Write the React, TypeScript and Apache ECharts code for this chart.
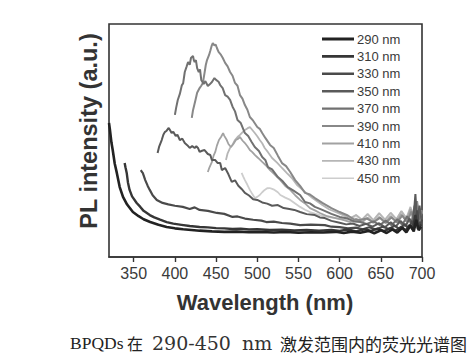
import React, { useEffect, useRef } from "react";
import * as echarts from "echarts";

const names = ["290 nm", "310 nm", "330 nm", "350 nm", "370 nm", "390 nm", "410 nm", "430 nm", "450 nm"];
const colors = ["#222222", "#363636", "#4a4a4a", "#5a5a5a", "#717171", "#888888", "#a2a2a2", "#b6b6b6", "#cdcdcd"];
const widths = [2.6, 2.4, 2.2, 2, 2, 2, 1.8, 1.8, 1.8];
const legendWidths = [3, 2.8, 2.6, 2.4, 2.2, 2, 2, 1.8, 1.6];
const xTicks = [350, 400, 450, 500, 550, 600, 650, 700];

const s290: number[][] = [[320,57.5],[321,55],[323,49],[324.5,45.9],[327,40],[329.5,36.1],[333,30],[337,25.8],[342,22.5],[349,19.3],[356,17.5],[362,16.2],[370,15.0],[380,13.8],[390,12.9],[400,12.3],[410,11.9],[420,11.6],[430,11.3],[445,11.0],[460,10.8],[475,10.9],[490,10.6],[505,10.7],[520,10.5],[535,10.7],[550,10.4],[565,10.6],[580,10.5],[595,10.8],[605,10.3],[615,10.9],[625,10.4],[635,11.2],[642,10.2],[650,11.5],[657,10.3],[664,11.8],[670,10.5],[676,12.5],[681,10.6],[686,13.5],[690,11.0],[693,16],[696,11.5],[699,13]];
const s310: number[][] = [[339,40.3],[340,38.5],[341.5,36.1],[343,32],[345,28.8],[348,26],[353.6,23.2],[358,21.5],[362,19.8],[369.5,18.0],[375,17.0],[382,16.0],[390,15],[398,14.3],[408,13.8],[418,13.3],[430,12.9],[440,12.7],[450,12.4],[460,12.3],[470,12.0],[480,12.1],[490,11.8],[500,11.9],[515,11.6],[530,11.7],[545,11.4],[560,11.6],[575,11.3],[590,11.6],[600,11.2],[610,11.8],[620,11.0],[630,11.9],[638,11.2],[646,12.2],[654,11.1],[662,12.4],[668,11.3],[675,13],[680,11.4],[685,13.8],[689,11.8],[692,18],[695,12],[699,14]];
const s330: number[][] = [[358.6,37.3],[360,36.5],[361,36.1],[364,33],[367,30.5],[369.5,28.8],[373,26.5],[378,24.5],[385,23.2],[392,22.6],[400,22.0],[409.6,21.5],[418,20.6],[424,21.3],[430,20.2],[440,19.8],[451,18.9],[460,18.5],[470,17.2],[476,17.4],[485,16.5],[495,16.0],[505,15.6],[511,15.0],[520,15.2],[530,14.6],[540,14.3],[552,13.7],[565,13.9],[582,13.7],[590,13.0],[600,12.8],[610,12.3],[620,12.6],[628,11.9],[636,12.8],[644,11.8],[652,13.0],[660,12.0],[667,13.5],[673,11.9],[679,14.2],[684,12.2],[688,15.5],[691,12.5],[694,20],[697,13],[700,16]];
const s350: number[][] = [[379,44.6],[381,47.5],[384,50.2],[386,52.5],[387.7,53.6],[390,54.2],[392.5,55.4],[394,54.5],[396,53.2],[398,53.8],[401,51.9],[403,52.5],[406,50.2],[409,50.8],[412,48.9],[415,48.0],[418,46.8],[421,47.6],[424,46.8],[426,47.5],[428,46.8],[430,45.1],[433,45.6],[436,45.9],[440,44.2],[443,43.8],[445,41.6],[449,41.6],[452,40.3],[455,40.3],[457,37.3],[461,38.2],[465,35.5],[469,32.2],[473,32.9],[477,30.6],[481,29.2],[485,27.5],[490,26.4],[495,24.8],[500,24.5],[506,23.4],[512,22.9],[518,22.0],[525,22.3],[532,21.0],[539,20.6],[545,20.2],[552,19.3],[560,18.4],[570,18.0],[576,17.0],[582,16.7],[590,15.5],[600,14.7],[608,14.0],[616,14.4],[624,13.3],[632,14.2],[640,13.0],[648,14.5],[655,12.8],[662,14.9],[668,13.0],[674,15.5],[680,13.2],[685,16.5],[689,13.5],[692,27],[694,15],[697,22],[700,14]];
const s370: number[][] = [[400,61],[401.5,64],[403.5,67.4],[406,70],[408.5,73.8],[410,74.5],[412,79.4],[414,81.5],[416,83.7],[418,82.5],[419.5,85.4],[422,86.3],[423,84.5],[424,83.7],[425.5,84.5],[427,81.1],[429,79.4],[430.5,80.5],[432,76.0],[435,74.2],[437,75.5],[440,73.4],[442,74.0],[445,75.1],[448,76.8],[450,76.0],[453,75.2],[455,73.8],[458,72.5],[461,69.5],[464,68.8],[467,67.4],[470,64.5],[473,62.5],[476,58.8],[480,57.5],[485,53.2],[489,51.9],[493,49.5],[497,47.2],[502,45.5],[506,42.9],[510,41.5],[513,38.6],[518,37.6],[525,34.3],[531,32.5],[537,30.0],[544,28.5],[552,26.6],[558,23.6],[564,23.0],[570,21.5],[579,20.2],[590,18.5],[600,17.2],[610,16.5],[618,15.2],[625,15.0],[633,14.2],[641,15.3],[649,13.7],[656,15.6],[663,13.6],[670,16.2],[676,13.8],[682,17.5],[687,14.2],[691,22],[694,15],[698,19]];
const s390: number[][] = [[420.5,59.7],[422,63],[425,67.4],[427,70.5],[430,72.5],[432,73.5],[434,74.7],[436,79],[437.5,82.4],[439,84.5],[441.5,86.7],[443,88.5],[444.5,90.5],[446,91.8],[448,90.8],[449.5,91.2],[451,89.7],[453,88.0],[456,86.7],[458,85.5],[461,83.3],[464,81.8],[467,79.4],[470,77.8],[473,74.7],[476,73.5],[479,69.5],[482,68.0],[485,65.2],[488,63.2],[491,60.1],[495,58.5],[500,55.8],[503,55.0],[506,53.2],[510,51.0],[515.5,48.1],[520,46.8],[525,43.5],[530,40.3],[535,39.0],[540,36.5],[546,33.0],[552,30.5],[558,27.5],[564,26.8],[570,25.3],[579,23.2],[590,21.0],[600,19.3],[610,17.8],[618,16.0],[625,15.9],[633,16.5],[641,15.0],[649,16.8],[656,14.6],[663,17.0],[670,14.8],[676,17.8],[682,15.0],[687,19.5],[691,15.5],[694,24],[697,16],[700,20]];
const s410: number[][] = [[440,36.5],[442,38.5],[445,40.8],[447,43.5],[449,45.1],[451,47.8],[453.5,50.2],[456,51.5],[458.5,53.2],[460,52.0],[463,50.2],[465,48.5],[468,47.2],[471,48.5],[474,50.2],[477,50.8],[479,51.5],[482,50.0],[485,48.9],[488,47.5],[491,45.9],[494,45.0],[497,43.8],[501,42.5],[506,40.8],[510,39.5],[515.5,37.3],[521,35.5],[528,33.0],[534,30.5],[540,28.8],[546,26.5],[552,24.5],[558,23.0],[564,21.0],[570,20.0],[576,18.9],[585,17.5],[595,16.7],[603,16.0],[613,15.0],[620,16.5],[627,14.8],[634,16.9],[641,14.6],[648,17.2],[655,14.8],[662,17.6],[669,15.0],[675,18.5],[681,15.2],[686,20.5],[690,15.8],[693,22],[696,16.5],[700,19]];
const s430: number[][] = [[462,41.6],[464,44.5],[467,46.8],[470,48.2],[473,50.2],[476,51.5],[479,52.4],[482,53.5],[485,54.5],[488,55.2],[491,55.8],[494,54.5],[497,53.2],[500,51.8],[503,50.2],[506,48.8],[509,46.8],[513,45.0],[518,42.5],[524,40.5],[530,38.2],[536,36.0],[542,33.9],[548,31.0],[555,28.8],[561,27.0],[567,25.3],[573,23.8],[579,22.3],[587,20.5],[595,19.3],[604,18.0],[613,16.7],[620,18.0],[627,16.0],[634,18.5],[641,15.8],[648,18.8],[655,16.0],[662,19.0],[669,16.2],[675,19.8],[681,16.5],[686,21.5],[690,17.0],[694,23],[697,17.5],[700,20]];
const s450: number[][] = [[481,36.1],[483,34.5],[485,33.0],[488,31.0],[491,28.8],[494,27.0],[497,25.3],[500,25.8],[503,26.6],[506,27.8],[509,28.8],[512,29.5],[515,29.6],[518,29.2],[521,28.8],[525,27.8],[528,26.6],[534,25.5],[540,24.5],[546,23.0],[552,21.5],[558,20.3],[564,19.3],[570,18.6],[576,18.0],[585,17.2],[595,16.7],[604,16.2],[613,15.9],[620,18.0],[627,15.8],[634,18.2],[641,15.6],[648,18.6],[655,16.0],[662,18.9],[669,16.2],[675,19.5],[681,16.8],[686,20.5],[690,17.0],[694,22],[697,17.5],[700,19.5]];

const seriesData = [s290, s310, s330, s350, s370, s390, s410, s430, s450];

function lineIcon(w: number): string {
  const a = 7 - w / 2;
  const b = 7 + w / 2;
  return `path://M0,0 L0.01,0 L0,0.01 Z M0,${a} L32,${a} L32,${b} L0,${b} Z M32,14 L31.99,14 L32,13.99 Z`;
}

export default function App() {
  const ref = useRef<HTMLDivElement>(null);
  useEffect(() => {
    if (!ref.current) return;
    const chart = echarts.init(ref.current, null, { renderer: "svg" });
    const series = seriesData.map((d, i) => ({
      name: names[i],
      type: "line",
      data: d,
      showSymbol: false,
      symbol: "none",
      z: 20 - i,
      lineStyle: { color: colors[i], width: widths[i] },
      itemStyle: { color: colors[i] },
    }));
    chart.setOption({
      animation: false,
      backgroundColor: "#ffffff",
      grid: {
        left: 109,
        top: 24,
        right: 49,
        bottom: 101,
        show: true,
        borderColor: "#333",
        borderWidth: 1.6,
        backgroundColor: "transparent",
      },
      legend: {
        orient: "vertical",
        left: 322,
        top: 32,
        padding: 0,
        itemWidth: 32,
        itemHeight: 14,
        itemGap: 3.4,
        symbolKeepAspect: false,
        textStyle: { fontSize: 13, color: "#3a3a3a", fontFamily: "Liberation Sans", padding: [0, 0, 0, -2] },
        data: names.map((n, i) => ({
          name: n,
          icon: lineIcon(legendWidths[i]),
          itemStyle: { color: colors[i], borderWidth: 0 },
        })),
      },
      xAxis: {
        type: "value",
        min: 320,
        max: 700,
        axisLine: { show: true, lineStyle: { color: "#333", width: 1.6 } },
        axisTick: { show: true, customValues: xTicks, length: 5, lineStyle: { color: "#333", width: 1.4 } },
        axisLabel: { customValues: xTicks, fontSize: 16, color: "#3a3a3a", fontFamily: "Liberation Sans", margin: 8 },
        splitLine: { show: false },
      },
      yAxis: {
        type: "value",
        min: 0,
        max: 100,
        axisLine: { show: false },
        axisTick: { show: false },
        axisLabel: { show: false },
        splitLine: { show: false },
      },
      graphic: [
        {
          type: "text",
          x: 265,
          y: 302,
          style: {
            text: "Wavelength (nm)",
            fontSize: 22,
            fontWeight: "bold",
            fontFamily: "Liberation Sans",
            fill: "#333",
            align: "center",
            verticalAlign: "middle",
          },
        },
        {
          type: "text",
          x: 89,
          y: 131,
          rotation: Math.PI / 2,
          style: {
            text: "PL intensity (a.u.)",
            fontSize: 23.5,
            fontWeight: "bold",
            fontFamily: "Liberation Sans",
            fill: "#333",
            align: "center",
            verticalAlign: "middle",
          },
        },
        {
          type: "text",
          x: 70,
          y: 343,
          style: {
            text: "{a|BPQDs }{b|在 }{c|290-450 }{d|nm }{e|激发范围内的荧光光谱图}",
            fill: "#222",
            align: "left",
            verticalAlign: "middle",
            rich: {
              a: { fontSize: 17.5, fontFamily: "Liberation Serif", width: 57, fill: "#222" },
              b: { fontSize: 16, fontFamily: "Noto Sans CJK SC", width: 25, fill: "#222" },
              c: { fontSize: 19, fontFamily: "DejaVu Serif", width: 90, fill: "#333" },
              d: { fontSize: 19, fontFamily: "DejaVu Serif", width: 38, fill: "#333" },
              e: { fontSize: 17, fontFamily: "Noto Sans CJK SC", fill: "#222" },
            },
          },
        },
      ],
      series,
    });
    return () => chart.dispose();
  }, []);
  return <div ref={ref} style={{ position: "fixed", left: 0, top: 0, width: 471, height: 358 }} />;
}
